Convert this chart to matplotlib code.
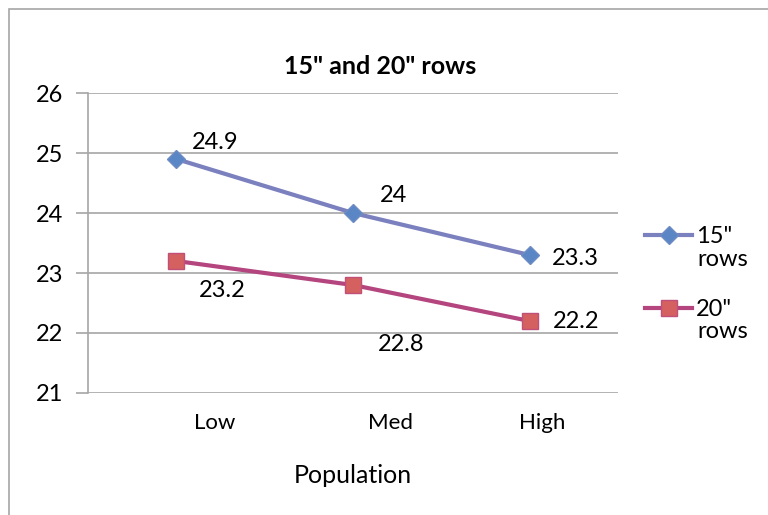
import matplotlib
matplotlib.use("Agg")
import matplotlib.pyplot as plt
import matplotlib.transforms as mtransforms
from matplotlib.patches import Rectangle
from matplotlib.lines import Line2D

plt.rcParams['font.family'] = ['Lato', 'DejaVu Sans']

categories = ['Low', 'Med', 'High']
rows15 = [24.9, 24.0, 23.3]
rows20 = [23.2, 22.8, 22.2]
labels15 = ['24.9', '24', '23.3']
labels20 = ['23.2', '22.8', '22.2']

blue_line = '#7B80BE'
blue_fill = '#5B86C5'
red_line = '#B4457E'
red_fill = '#D4605F'
grid_c = '#A6A6A6'

fig = plt.figure(figsize=(7.68, 5.15), dpi=100)
ax = fig.add_axes([0.1146, 0.2369, 0.6901, 0.5825])

# outer chart frame
fig.patches.append(Rectangle((9/768, -0.05), 1.2, 1 - 9/515 + 0.05, transform=fig.transFigure,
                             fill=False, ec=grid_c, lw=1.2))

x = list(range(len(categories)))
ax.plot(x, rows15, color=blue_line, lw=3, marker='D', ms=9, mfc=blue_fill, mec='#6E8CC4', zorder=3)
ax.plot(x, rows20, color=red_line, lw=3, marker='s', ms=12, mfc=red_fill, mec='#C0507A', zorder=3)

# data labels (offset in pixels, as in the reference)
off15 = [(39, 17), (40, 18), (46, -3)]
off20 = [(46, -29), (48, -59), (46, -1)]
for xi, v, t, (dx, dy) in zip(x, rows15, labels15, off15):
    ax.annotate(t, (xi, v), xytext=(dx, dy), textcoords='offset pixels',
                ha='center', va='center', fontsize=17)
for xi, v, t, (dx, dy) in zip(x, rows20, labels20, off20):
    ax.annotate(t, (xi, v), xytext=(dx, dy), textcoords='offset pixels',
                ha='center', va='center', fontsize=17)

ax.set_xlim(-0.5, 2.5)
ax.set_ylim(21, 26)
ax.set_yticks([21, 22, 23, 24, 25, 26])
ax.yaxis.grid(True, color=grid_c, lw=1.2)
ax.set_axisbelow(True)
for s in ['top', 'right', 'bottom']:
    ax.spines[s].set_visible(False)
ax.spines['left'].set_color(grid_c)
ax.spines['left'].set_linewidth(1.2)
ax.tick_params(axis='y', length=9, color=grid_c, width=1.2, labelsize=17, pad=9)
ax.tick_params(axis='x', length=0, labelsize=16, pad=14.5)

ax.set_xticks(x)
ax.set_xticklabels(categories)
shifts = [38, 37, 13]
for lab, dx in zip(ax.get_xticklabels(), shifts):
    lab.set_transform(lab.get_transform() + mtransforms.ScaledTranslation(dx / 100, 0, fig.dpi_scale_trans))

ax.set_xlabel('Population', fontsize=18, labelpad=22.5)
fig.text(380/768, 1 - 67/515, '15" and 20" rows', ha='center', va='center',
         fontsize=18, fontweight='bold')

# legend: handle sits beside the first line of each label
handles = [Line2D([], [], color=blue_line, lw=3, marker='D', ms=9, mfc=blue_fill, mec='#6E8CC4'),
           Line2D([], [], color=red_line, lw=3, marker='s', ms=12, mfc=red_fill, mec='#C0507A')]
leg = fig.legend(handles, ['15"', '20"'], loc='upper left',
                 bbox_to_anchor=(645/768, 1 - 226/515), frameon=False, fontsize=17,
                 handlelength=2.0, handletextpad=0.15, labelspacing=2.2, borderpad=0,
                 borderaxespad=0)
for yy in [259, 331]:
    fig.text(697/768, 1 - yy/515, 'rows', ha='left', va='center', fontsize=17)

fig.savefig('out.png', dpi=100)
